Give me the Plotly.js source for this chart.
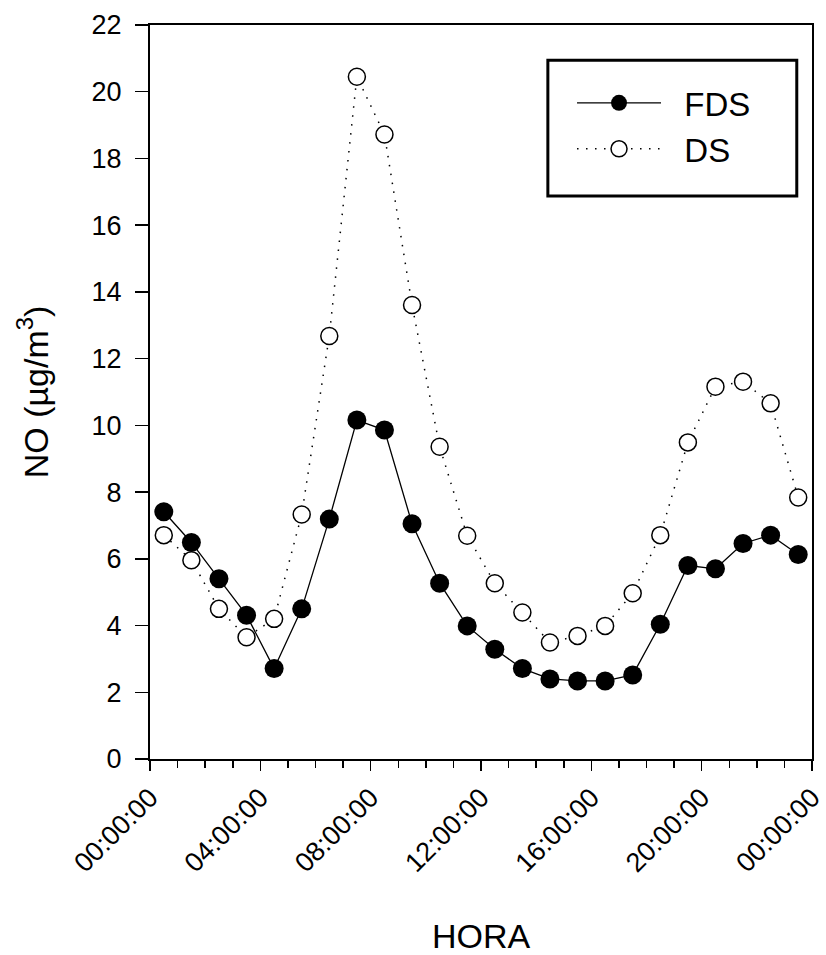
<!DOCTYPE html>
<html>
<head>
<meta charset="utf-8">
<script src="https://cdn.plot.ly/plotly-3.0.1.min.js"></script>
<style>html,body{margin:0;padding:0;background:#fff;}#chart{width:826px;height:955px;}</style>
</head>
<body>
<div id="chart"></div>
<script>
// Hours (mid-hour positions)
const hours = [0.5,1.5,2.5,3.5,4.5,5.5,6.5,7.5,8.5,9.5,10.5,11.5,12.5,13.5,14.5,15.5,16.5,17.5,18.5,19.5,20.5,21.5,22.5,23.5];
// NO concentration (µg/m3)
const fds = [7.41,6.49,5.40,4.31,2.71,4.50,7.19,10.16,9.86,7.05,5.27,3.99,3.29,2.71,2.40,2.34,2.34,2.52,4.04,5.80,5.70,6.46,6.71,6.13];
const ds  = [6.71,5.96,4.50,3.65,4.20,7.33,12.68,20.45,18.72,13.61,9.36,6.69,5.27,4.39,3.49,3.69,3.99,4.97,6.71,9.49,11.16,11.31,10.66,7.84];
// Tick labels
const xTickVals = [0,4,8,12,16,20,24];
const xTickText = ["00:00:00","04:00:00","08:00:00","12:00:00","16:00:00","20:00:00","00:00:00"];
const seriesNames = ["FDS","DS"];

const font = "Liberation Sans, Arial, sans-serif";
const pad = "\u00a0\u00a0";

const traces = [
  {x: hours, y: fds, name: pad + seriesNames[0], type: "scatter", mode: "lines+markers",
   line: {color: "#000", width: 1.3},
   marker: {symbol: "circle", size: 19, color: "#000"}},
  {x: hours, y: ds, name: pad + seriesNames[1], type: "scatter", mode: "lines+markers",
   line: {color: "#000", width: 1.5, dash: "1.5px,7.5px"},
   marker: {symbol: "circle", size: 17, color: "#fff", line: {width: 1.5, color: "#000"}}}
];

const layout = {
  width: 826, height: 955,
  margin: {l: 150, r: 14, t: 25, b: 196},
  paper_bgcolor: "#fff", plot_bgcolor: "#fff",
  font: {family: font, color: "#000"},
  showlegend: true,
  legend: {x: 0.6375, y: 0.932, xanchor: "left", yanchor: "top",
    borderwidth: 0, bgcolor: "rgba(0,0,0,0)",
    font: {size: 33, family: font}, itemwidth: 84, tracegroupgap: 0},
  shapes: [
    {type: "rect", xref: "paper", yref: "paper", x0: 0.601, x1: 0.977, y0: 0.767, y1: 0.952,
     line: {color: "#000", width: 3}, fillcolor: "rgba(0,0,0,0)", layer: "above"}
  ],
  xaxis: {
    range: [0, 24], tickmode: "array", tickvals: xTickVals, ticktext: xTickText,
    tickangle: -45, ticks: "outside", ticklen: 10, tickwidth: 1.5, tickcolor: "#000",
    minor: {dtick: 1, tick0: 0, ticks: "outside", ticklen: 7, tickwidth: 1.5, tickcolor: "#000"},
    showline: true, linecolor: "#000", linewidth: 2, mirror: true,
    showgrid: false, zeroline: false,
    tickfont: {size: 27, family: font},
    title: {text: "HORA", font: {size: 34, family: font}, standoff: 52}
  },
  yaxis: {
    range: [0, 22], tick0: 0, dtick: 2, ticks: "outside", ticklen: 13, tickwidth: 1.5, tickcolor: "#000",
    showline: true, linecolor: "#000", linewidth: 2, mirror: true,
    showgrid: false, zeroline: false, ticklabelstandoff: 8,
    tickfont: {size: 27, family: font},
    title: {text: "NO (µg/m<sup>3</sup>)", font: {size: 34, family: font}, standoff: 33}
  }
};

Plotly.newPlot("chart", traces, layout, {displayModeBar: false, staticPlot: true});
</script>
</body>
</html>
